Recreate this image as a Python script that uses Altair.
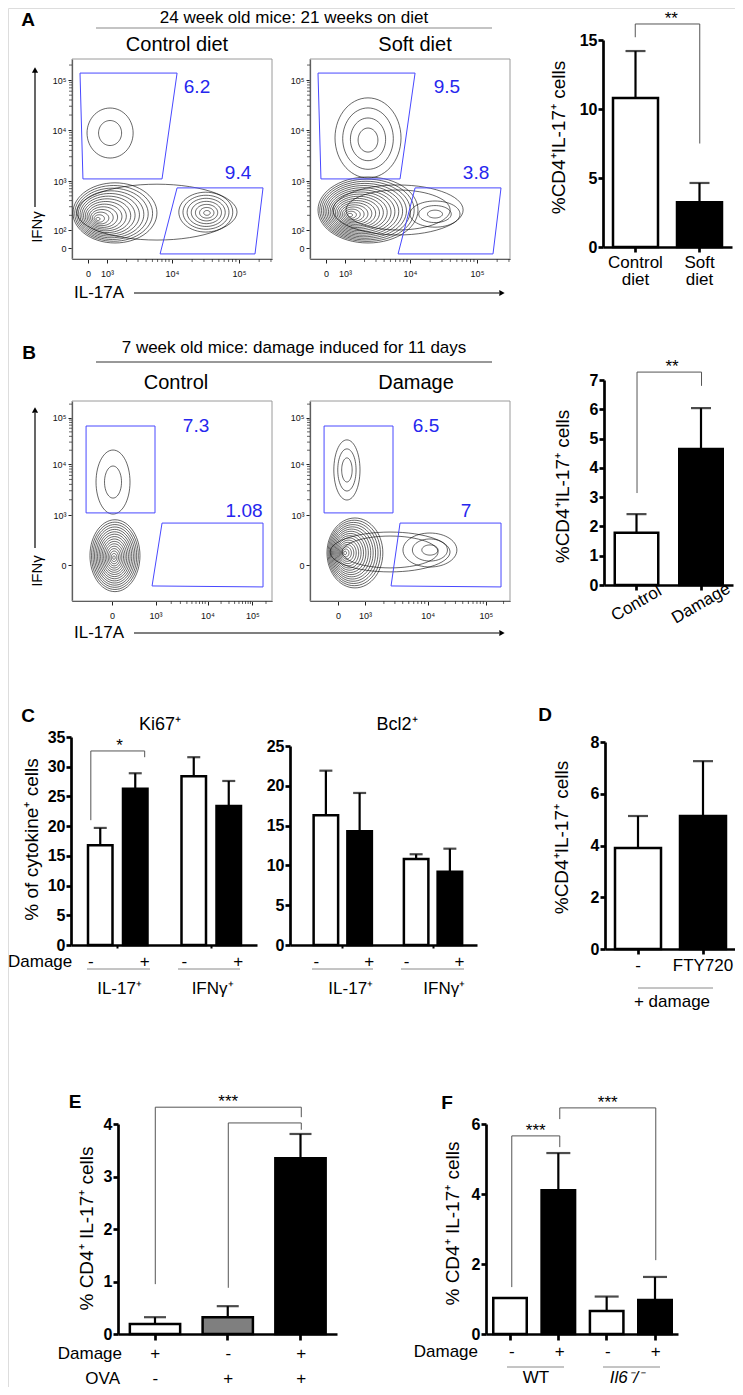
import altair as alt
import numpy as np
import pandas as pd

FONT = "Liberation Sans"
W, H = 727, 1379          # chart drawing area (page minus its 8px margin)
MARGIN = 8


def p(v):
    """position in the reference figure -> position in the chart area"""
    return v - MARGIN


# =====================================================================
# DATA
# =====================================================================
# ---- Panel A : 24 week old mice, 21 weeks on diet ----
A_flow_titles = ["Control diet", "Soft diet"]
A_ifng_pct = ["6.2", "9.5"]
A_il17_pct = ["9.4", "3.8"]
A_groups = ["Control diet", "Soft diet"]
A_mean = [10.8, 3.25]
A_upper = [14.2, 4.64]          # mean + SEM

# ---- Panel B : 7 week old mice, damage induced for 11 days ----
B_flow_titles = ["Control", "Damage"]
B_ifng_pct = ["7.3", "6.5"]
B_il17_pct = ["1.08", "7"]
B_groups = ["Control", "Damage"]
B_mean = [1.78, 4.64]
B_upper = [2.42, 6.04]

# ---- Panel C ----
C_cytokines = ["IL-17⁺", "IFNγ⁺"]
C_damage = ["-", "+"]
C_ki67_mean = [16.8, 26.3, 28.4, 23.4]
C_ki67_upper = [19.7, 28.9, 31.6, 27.6]
C_bcl2_mean = [16.3, 14.3, 10.8, 9.2]
C_bcl2_upper = [21.9, 19.1, 11.4, 12.1]

# ---- Panel D ----
D_groups = ["-", "FTY720"]
D_mean = [3.9, 5.14]
D_upper = [5.14, 7.26]

# ---- Panel E ----
E_damage = ["+", "-", "+"]
E_ova = ["-", "+", "+"]
E_mean = [0.19, 0.32, 3.35]
E_upper = [0.32, 0.53, 3.81]

# ---- Panel F ----
F_damage = ["-", "+", "-", "+"]
F_genotype = ["WT", "WT", "Il6", "Il6"]
F_mean = [1.03, 4.11, 0.66, 0.97]
F_upper = [1.03, 5.17, 1.07, 1.63]

# ---- flow plots, in display channel units (0-1024 across each plot) ----
FLOW_X_LABELS = ["0", "10³", "10⁴", "10⁵"]
FLOW_A_X_TICKS = [82, 179, 512, 855]
FLOW_A_Y_TICKS = [56, 148, 399, 660, 916]
FLOW_A_Y_LABELS = ["0", "10²", "10³", "10⁴", "10⁵"]
FLOW_B1_X_TICKS = [205, 428, 694, 924]
FLOW_B2_X_TICKS = [143, 282, 602, 901]
FLOW_B_Y_TICKS = [184, 440, 701, 937]
FLOW_B_Y_LABELS = ["0", "10³", "10⁴", "10⁵"]

A_IFNG_GATE_X = [41, 538, 461, 56]
A_IFNG_GATE_Y = [952, 952, 410, 410]
A_IL17_GATE_X = [538, 978, 937, 451]
A_IL17_GATE_Y = [364, 364, 26, 26]
B_IFNG_GATE_X = [72, 425, 425, 72]
B_IFNG_GATE_Y = [896, 896, 451, 451]
B1_IL17_GATE_X = [461, 978, 978, 410]
B2_IL17_GATE_X = [461, 978, 978, 415]
B_IL17_GATE_Y = [399, 399, 72, 77]

# where each gate frequency is written
A1_PCT_X, A1_PCT_Y = [640, 850], [881, 440]
A2_PCT_X, A2_PCT_Y = [701, 850], [881, 440]
B1_PCT_X, B1_PCT_Y = [635, 881], [896, 461]
B2_PCT_X, B2_PCT_Y = [594, 799], [896, 461]

# populations drawn as nested contours:
# (inner cx, inner cy, outer cx, outer cy, outer rx, outer ry, n levels, inner size fraction)
A1_POPS = [(133, 205, 220, 236, 215, 154, 14, 0.05),
           (691, 236, 685, 240, 138, 102, 7, 0.12),
           (195, 645, 195, 645, 118, 128, 2, 0.5),
           (435, 240, 435, 240, 410, 143, 1, 1.0)]
A2_POPS = [(205, 225, 297, 251, 256, 169, 18, 0.05),
           (297, 609, 297, 620, 169, 205, 4, 0.3),
           (640, 230, 640, 230, 128, 67, 3, 0.3),
           (451, 251, 451, 251, 333, 128, 2, 0.8)]
B1_POPS = [(215, 222, 220, 232, 128, 184, 16, 0.05),
           (210, 609, 210, 609, 87, 164, 2, 0.5)]
B2_POPS = [(180, 246, 230, 246, 143, 179, 16, 0.05),
           (614, 261, 614, 261, 138, 87, 3, 0.3),
           (410, 251, 410, 251, 307, 102, 2, 0.8),
           (189, 671, 189, 671, 67, 154, 3, 0.4)]

# =====================================================================
# LAYOUT (reference pixels)
# =====================================================================
FLOW_W = 200
FLOW_L = [72, 310]
FLOW_A_TB = (59, 259)
FLOW_B_TB = (401, 601)

LAY_A = dict(x0=603, x1=732, y0=247, ytop=40, ymax=15, ticks=[0, 5, 10, 15],
             c0=635.5, c1=699.5, bw=45, cap=20,
             title="%CD4⁺IL-17⁺ cells", tx=558, ty=137)
LAY_B = dict(x0=604, x1=733, y0=585, ytop=380, ymax=7, ticks=list(range(8)),
             c0=636.5, c1=701, bw=43.5, cap=20,
             title="%CD4⁺IL-17⁺ cells", tx=562, ty=486)
LAY_KI = dict(x0=71, x1=257, y0=945, ytop=737, ymax=35, ticks=list(range(0, 36, 5)),
              c0=117.75, c1=211.25, ostep=35, bw=24.5, cap=13,
              title="% of cytokine⁺ cells", tx=31, ty=839)
LAY_BCL = dict(x0=290, x1=477, y0=945, ytop=746, ymax=25, ticks=list(range(0, 26, 5)),
               c0=342.75, c1=433, ostep=33.75, bw=24.5, cap=13, title=None)
LAY_D = dict(x0=605, x1=735, y0=949, ytop=742, ymax=8, ticks=[0, 2, 4, 6, 8],
             c0=638, c1=703, bw=46, cap=20,
             title="%CD4⁺IL-17⁺ cells", tx=561, ty=837)
LAY_E = dict(x0=118, x1=337, y0=1334, ytop=1124, ymax=4, ticks=[0, 1, 2, 3, 4],
             c0=155, c1=300.5, bw=50.3, cap=22,
             title="% CD4⁺ IL-17⁺ cells", tx=86, ty=1228)
LAY_F = dict(x0=486, x1=678, y0=1334, ytop=1124, ymax=6, ticks=[0, 2, 4, 6],
             c0=510, c1=655, bw=33.5, cap=24,
             title="% CD4⁺ IL-17⁺ cells", tx=452, ty=1223)

ONE = pd.DataFrame({"k": [0]})
GATE_BLUE = "#4848ff"
PCT_BLUE = "#2626ee"
GREY = "#8a8a8a"
TICK_FONT = 16
TITLE_FONT = 19


# =====================================================================
# helpers
# =====================================================================
def txt(s, X, Y, size=17, weight="normal", align="center", baseline="middle",
        angle=None, color="black", style=None):
    kw = dict(text=s, font=FONT, fontSize=size, fontWeight=weight, align=align,
              baseline=baseline, color=color)
    if angle is not None:
        kw["angle"] = angle
    if style:
        kw["fontStyle"] = style
    return alt.Chart(ONE).mark_text(**kw).encode(x=alt.value(p(X)), y=alt.value(p(Y)))


def hline(X1, X2, Y, color="black", width=1.0):
    return alt.Chart(ONE).mark_rule(color=color, strokeWidth=width).encode(
        x=alt.value(p(X1)), x2=alt.value(p(X2)), y=alt.value(p(Y)))


def vline(X, Y1, Y2, color="black", width=1.0):
    return alt.Chart(ONE).mark_rule(color=color, strokeWidth=width).encode(
        x=alt.value(p(X)), y=alt.value(p(Y1)), y2=alt.value(p(Y2)))


def head(X, Y, shape):
    return alt.Chart(ONE).mark_point(shape=shape, filled=True, size=38, color="black",
                                     opacity=1).encode(x=alt.value(p(X)), y=alt.value(p(Y)))


def band_scale(domain, x0, x1, c0, c1, bw):
    n = len(domain)
    step = (c1 - c0) / (n - 1)
    pi = 1 - bw / step
    span = x1 - x0
    po = max((span / step - n + pi) / 2, 0)
    slack = span - step * (n - pi)
    align = (c0 - bw / 2 - x0) / slack if slack > 0.5 else 0.5
    align = min(max(align, 0), 1)
    return alt.Scale(domain=domain, range=[p(x0), p(x1)], paddingInner=pi,
                     paddingOuter=po, align=align)


def y_scale(lay):
    return alt.Scale(domain=[0, lay["ymax"]], range=[p(lay["y0"]), p(lay["ytop"])],
                     nice=False, zero=True)


def y_axis(lay):
    kw = dict(orient="left", offset=-p(lay["x0"]), values=lay["ticks"], grid=False,
              domainColor="black", domainWidth=2.7, tickColor="black", tickWidth=2.7,
              tickSize=5, labelFont=FONT, labelFontSize=TICK_FONT, labelFontWeight="bold",
              labelColor="black", labelPadding=1)
    if lay["title"]:
        kw.update(title=lay["title"], titleFont=FONT, titleFontSize=TITLE_FONT,
                  titleFontWeight="normal", titleColor="black",
                  titleX=lay["tx"] - lay["x0"], titleY=p(lay["ty"]),
                  titleBaseline="middle", titleAngle=270)
    else:
        kw["title"] = None
    return alt.Axis(**kw)


def x_axis(lay, **extra):
    kw = dict(orient="bottom", offset=p(lay["y0"]) - H, title=None, grid=False,
              domainColor="black", domainWidth=2.7, tickColor="black", tickWidth=2.7,
              tickSize=5, labelFont=FONT, labelFontSize=17, labelColor="black")
    kw.update(extra)
    return alt.Axis(**kw)


def bar_panel(cats, means, uppers, fills, lay, xaxis_extra, brackets=(), stars=(),
              below=()):
    df = pd.DataFrame({"cat": cats, "mean": means, "upper": uppers, "fill": fills,
                       "base": [0.0] * len(cats)})
    xs = band_scale(cats, lay["x0"], lay["x1"], lay["c0"], lay["c1"], lay["bw"])
    ys = y_scale(lay)

    def X():
        return alt.X("cat:N", scale=xs, axis=None)

    def Y(f):
        return alt.Y(f, scale=ys, axis=None)

    out = [alt.Chart(df).mark_bar(stroke="black", strokeWidth=2.5).encode(
        x=alt.X("cat:N", scale=xs, axis=x_axis(lay, **xaxis_extra)),
        y=alt.Y("mean:Q", scale=ys, axis=y_axis(lay)),
        y2="base:Q",
        color=alt.Color("fill:N", scale=None))]
    err = alt.Chart(df[df["upper"] > df["mean"]])
    out.append(err.mark_rule(color="black", strokeWidth=2.2).encode(
        x=X(), y=Y("mean:Q"), y2="upper:Q"))
    out.append(err.mark_tick(color="black", thickness=2.2, size=lay["cap"]).encode(
        x=X(), y=Y("upper:Q")))
    rows = []
    for bi, br in enumerate(brackets):
        for oi, (c, v) in enumerate(br):
            rows.append({"bid": bi, "ord": oi, "cat": c, "val": v})
    if rows:
        out.append(alt.Chart(pd.DataFrame(rows)).mark_line(
            color="#555555", strokeWidth=1).encode(
            x=X(), y=Y("val:Q"), detail="bid:N", order="ord:Q"))
    for (c, v, s, dx) in stars:
        out.append(alt.Chart(pd.DataFrame({"cat": [c], "val": [v]})).mark_text(
            text=s, font=FONT, fontSize=17, baseline="alphabetic", dx=dx,
            color="black").encode(x=X(), y=Y("val:Q")))
    for (labels, Yp) in below:
        out.append(alt.Chart(pd.DataFrame({"cat": cats, "lab": labels})).mark_text(
            font=FONT, fontSize=17, color="black", baseline="middle").encode(
            x=X(), y=alt.value(p(Yp)), text="lab:N"))
    return out


def grouped_panel(means, uppers, lay, brackets=(), stars=()):
    grp = [g for g in C_cytokines for _ in C_damage]
    dmg = [d for _ in C_cytokines for d in C_damage]
    fills = ["white" if d == "-" else "black" for d in dmg]
    df = pd.DataFrame({"grp": grp, "dmg": dmg, "mean": means, "upper": uppers,
                       "fill": fills, "base": [0.0] * len(grp)})
    xs = band_scale(C_cytokines, lay["x0"], lay["x1"], lay["c0"], lay["c1"],
                    2 * lay["ostep"])
    opi = 1 - lay["bw"] / lay["ostep"]
    xo = alt.Scale(domain=C_damage, paddingInner=opi, paddingOuter=opi / 2)
    ys = y_scale(lay)

    def X():
        return alt.X("grp:N", scale=xs, axis=None)

    def XO():
        return alt.XOffset("dmg:N", scale=xo)

    def Y(f):
        return alt.Y(f, scale=ys, axis=None)

    xax = x_axis(lay, labels=False, tickSize=3, tickWidth=2)
    out = [alt.Chart(df).mark_bar(stroke="black", strokeWidth=2.5).encode(
        x=alt.X("grp:N", scale=xs, axis=xax), xOffset=XO(),
        y=alt.Y("mean:Q", scale=ys, axis=y_axis(lay)), y2="base:Q",
        color=alt.Color("fill:N", scale=None))]
    out.append(alt.Chart(df).mark_rule(color="black", strokeWidth=2.2).encode(
        x=X(), xOffset=XO(), y=Y("mean:Q"), y2="upper:Q"))
    out.append(alt.Chart(df).mark_tick(color="black", thickness=2.2, size=lay["cap"]).encode(
        x=X(), xOffset=XO(), y=Y("upper:Q")))
    rows = []
    for bi, br in enumerate(brackets):
        for oi, (g, d, v) in enumerate(br):
            rows.append({"bid": bi, "ord": oi, "grp": g, "dmg": d, "val": v})
    if rows:
        out.append(alt.Chart(pd.DataFrame(rows)).mark_line(
            color="#555555", strokeWidth=1).encode(
            x=X(), xOffset=XO(), y=Y("val:Q"), detail="bid:N", order="ord:Q"))
    for (g, v, s) in stars:
        out.append(alt.Chart(pd.DataFrame({"grp": [g], "val": [v]})).mark_text(
            text=s, font=FONT, fontSize=17, baseline="alphabetic", color="black").encode(
            x=X(), y=Y("val:Q")))
    out.append(alt.Chart(df).mark_text(font=FONT, fontSize=17, color="black",
                                       baseline="middle").encode(
        x=X(), xOffset=XO(), y=alt.value(p(962)), text="dmg:N"))
    out.append(alt.Chart(pd.DataFrame({"grp": C_cytokines})).mark_text(
        font=FONT, fontSize=17, color="black", baseline="middle").encode(
        x=X(), y=alt.value(p(989)), text="grp:N"))
    return out


def label_expr(vals, labels):
    e = "''"
    for v, l in reversed(list(zip(vals, labels))):
        e = f"datum.value == {v} ? '{l}' : {e}"
    return e


def minor_ticks(decades, top=1024):
    """log-decade minor tick positions between (and after) the decade ticks"""
    out = []
    for a, b in zip(decades[:-1], decades[1:]):
        out += [a + (b - a) * np.log10(k) for k in range(2, 10)]
    step = decades[-1] - decades[-2]
    out += [v for v in (decades[-1] + step * np.log10(k) for k in range(2, 10)) if v < top]
    return out


def contour_df(pops):
    ang = np.linspace(0, 2 * np.pi, 61)
    rows = []
    cid = 0
    for (cxi, cyi, cxo, cyo, rxo, ryo, n, f) in pops:
        for k in range(n):
            t = 1.0 if n == 1 else k / (n - 1)
            cx = cxi + t * (cxo - cxi)
            cy = cyi + t * (cyo - cyi)
            s = f + (1 - f) * t
            for j, a in enumerate(ang):
                rows.append((cid, j, cx + rxo * s * np.cos(a), cy + ryo * s * np.sin(a)))
            cid += 1
    return pd.DataFrame(rows, columns=["cid", "ord", "x", "y"])


def gate_df(gates):
    rows = []
    for gi, (gx, gy) in enumerate(gates):
        n = len(gx)
        for j in range(n + 1):
            rows.append((gi, j, gx[j % n], gy[j % n]))
    return pd.DataFrame(rows, columns=["gid", "ord", "x", "y"])


def flow_panel(L, TB, xticks, yticks, ylabels, gates, pct_x, pct_y, pct_txt, pops):
    T, B = TB
    xs = alt.Scale(domain=[0, 1024], range=[p(L), p(L + FLOW_W)], nice=False, zero=False)
    ys = alt.Scale(domain=[0, 1024], range=[p(B), p(T)], nice=False, zero=False)
    common = dict(grid=False, title=None, domainColor="#222222", domainWidth=1.2,
                  tickColor="#222222", tickWidth=1, tickSize=4, labelFont=FONT,
                  labelFontSize=9, labelColor="#111111")
    xax = alt.Axis(orient="bottom", offset=p(B) - H, values=xticks,
                   labelExpr=label_expr(xticks, FLOW_X_LABELS), labelPadding=6, **common)
    yax = alt.Axis(orient="left", offset=-p(L), values=yticks,
                   labelExpr=label_expr(yticks, ylabels), labelPadding=2, **common)

    def X(f="x:Q"):
        return alt.X(f, scale=xs, axis=None)

    def Y(f="y:Q"):
        return alt.Y(f, scale=ys, axis=None)

    frame = alt.Chart(pd.DataFrame({"x": [0], "x2": [1024], "y": [0], "y2": [1024]})).mark_rect(
        fillOpacity=0, stroke="#9a9a9a", strokeWidth=1).encode(
        x=alt.X("x:Q", scale=xs, axis=xax), x2="x2:Q",
        y=alt.Y("y:Q", scale=ys, axis=yax), y2="y2:Q")
    xdec = [v for v, l in zip(xticks, FLOW_X_LABELS) if l != "0"]
    ydec = [v for v, l in zip(yticks, ylabels) if l != "0"]
    xm = pd.DataFrame({"m": minor_ticks(xdec), "z": 0})
    ym = pd.DataFrame({"m": minor_ticks(ydec), "z": 0})
    xminor = alt.Chart(xm).mark_tick(orient="vertical", size=3, thickness=1,
                                     color="#222222", yOffset=1.5).encode(
        x=X("m:Q"), y=Y("z:Q"))
    yminor = alt.Chart(ym).mark_tick(orient="horizontal", size=3, thickness=1,
                                     color="#222222", xOffset=-1.5).encode(
        x=X("z:Q"), y=Y("m:Q"))
    cont = alt.Chart(contour_df(pops)).mark_line(color="black", strokeWidth=0.6).encode(
        x=X(), y=Y(), detail="cid:N", order="ord:Q")
    gate = alt.Chart(gate_df(gates)).mark_line(color=GATE_BLUE, strokeWidth=1).encode(
        x=X(), y=Y(), detail="gid:N", order="ord:Q")
    pct = alt.Chart(pd.DataFrame({"x": pct_x, "y": pct_y, "t": pct_txt})).mark_text(
        font=FONT, fontSize=19, color=PCT_BLUE, baseline="middle").encode(
        x=X(), y=Y(), text="t:N")
    return [frame, xminor, yminor, cont, gate, pct]


# =====================================================================
# panels (all flat: every unit carries its own explicit scales)
# =====================================================================
layers = []

A_gates = [(A_IFNG_GATE_X, A_IFNG_GATE_Y), (A_IL17_GATE_X, A_IL17_GATE_Y)]
layers += flow_panel(FLOW_L[0], FLOW_A_TB, FLOW_A_X_TICKS, FLOW_A_Y_TICKS,
                     FLOW_A_Y_LABELS, A_gates, A1_PCT_X, A1_PCT_Y,
                     [A_ifng_pct[0], A_il17_pct[0]], A1_POPS)
layers += flow_panel(FLOW_L[1], FLOW_A_TB, FLOW_A_X_TICKS, FLOW_A_Y_TICKS,
                     FLOW_A_Y_LABELS, A_gates, A2_PCT_X, A2_PCT_Y,
                     [A_ifng_pct[1], A_il17_pct[1]], A2_POPS)
layers += flow_panel(FLOW_L[0], FLOW_B_TB, FLOW_B1_X_TICKS, FLOW_B_Y_TICKS,
                     FLOW_B_Y_LABELS,
                     [(B_IFNG_GATE_X, B_IFNG_GATE_Y), (B1_IL17_GATE_X, B_IL17_GATE_Y)],
                     B1_PCT_X, B1_PCT_Y, [B_ifng_pct[0], B_il17_pct[0]], B1_POPS)
layers += flow_panel(FLOW_L[1], FLOW_B_TB, FLOW_B2_X_TICKS, FLOW_B_Y_TICKS,
                     FLOW_B_Y_LABELS,
                     [(B_IFNG_GATE_X, B_IFNG_GATE_Y), (B2_IL17_GATE_X, B_IL17_GATE_Y)],
                     B2_PCT_X, B2_PCT_Y, [B_ifng_pct[1], B_il17_pct[1]], B2_POPS)

layers += bar_panel(
    A_groups, A_mean, A_upper, ["white", "black"], LAY_A,
    dict(labelExpr="split(datum.label, ' ')", labelLineHeight=17, labelPadding=2,
         labelAngle=0),
    brackets=[[(A_groups[0], 15.2), (A_groups[0], 16.16), (A_groups[1], 16.16),
               (A_groups[1], 7.5)]],
    stars=[(A_groups[0], 16.16, "**", 36)])

layers += bar_panel(
    B_groups, B_mean, B_upper, ["white", "black"], LAY_B,
    dict(labelAngle=330, labelAlign="center", labelBaseline="middle", labelPadding=13),
    brackets=[[(B_groups[0], 3.14), (B_groups[0], 7.27), (B_groups[1], 7.27),
               (B_groups[1], 6.8)]],
    stars=[(B_groups[0], 7.27, "**", 35)])

layers += grouped_panel(
    C_ki67_mean, C_ki67_upper, LAY_KI,
    brackets=[[(C_cytokines[0], "-", 21.0), (C_cytokines[0], "-", 32.65),
               (C_cytokines[0], "+", 32.65), (C_cytokines[0], "+", 31.6)]],
    stars=[(C_cytokines[0], 32.65, "*")])
layers += grouped_panel(C_bcl2_mean, C_bcl2_upper, LAY_BCL)

layers += bar_panel(D_groups, D_mean, D_upper, ["white", "black"], LAY_D,
                    dict(labelAngle=0, labelPadding=3))

E_cats = [f"{d}/{o}" for d, o in zip(E_damage, E_ova)]
layers += bar_panel(
    E_cats, E_mean, E_upper, ["white", "#7f7f7f", "black"], LAY_E,
    dict(labels=False, tickSize=6),
    brackets=[[(E_cats[0], 0.95), (E_cats[0], 4.32), (E_cats[2], 4.32), (E_cats[2], 4.13)],
              [(E_cats[1], 0.88), (E_cats[1], 4.02), (E_cats[2], 4.02), (E_cats[2], 3.89)]],
    stars=[(E_cats[1], 4.32, "***", 0)],
    below=[(E_damage, 1354), (E_ova, 1379)])

F_cats = [f"{g} {d}" for g, d in zip(F_genotype, F_damage)]
layers += bar_panel(
    F_cats, F_mean, F_upper, ["white", "black", "white", "black"], LAY_F,
    dict(labels=False, tickSize=6),
    brackets=[[(F_cats[0], 1.34), (F_cats[0], 5.66), (F_cats[1], 5.66), (F_cats[1], 5.34)],
              [(F_cats[1], 6.14), (F_cats[1], 6.46), (F_cats[3], 6.46), (F_cats[3], 2.11)]],
    stars=[(F_cats[0], 5.66, "***", 24), (F_cats[2], 6.46, "***", 0)],
    below=[(F_damage, 1352)])

# ---- text, rules and arrows around the panels ----
layers += [
    txt("A", 28, 20, 19, "bold"), txt("B", 29, 353, 19, "bold"),
    txt("C", 28, 716, 19, "bold"), txt("D", 545, 715, 19, "bold"),
    txt("E", 75, 1102, 19, "bold"), txt("F", 447, 1103, 19, "bold"),
    txt("24 week old mice: 21 weeks on diet", 294, 18, 17),
    hline(96, 492, 28, GREY, 1.2),
    txt("7 week old mice: damage induced for 11 days", 294, 348, 17),
    hline(96, 492, 362, "#333333", 1.0),
    txt(A_flow_titles[0], 177, 45, 20), txt(A_flow_titles[1], 415, 45, 20),
    txt(B_flow_titles[0], 176, 383, 20), txt(B_flow_titles[1], 416, 383, 20),
    vline(35, 72, 207, "black", 1.2), head(35, 70, "triangle-up"),
    txt("IFNγ", 37, 227, 15, angle=270),
    vline(35, 413, 548, "black", 1.2), head(35, 410, "triangle-up"),
    txt("IFNγ", 37, 571, 15, angle=270),
    txt("IL-17A", 74, 293, 17, align="left"),
    hline(134, 499, 293, "black", 1.2), head(502, 293, "triangle-right"),
    txt("IL-17A", 74, 633, 17, align="left"),
    hline(134, 499, 633, "black", 1.2), head(502, 633, "triangle-right"),
    txt("Ki67⁺", 160, 725, 18), txt("Bcl2⁺", 397, 725, 18),
    txt("Damage", 8, 962, 17, align="left"),
    hline(87, 150, 969, GREY), hline(178, 240, 969, GREY),
    hline(312, 373, 969, GREY), hline(401, 464, 969, GREY),
    hline(638, 713, 988, GREY), txt("+ damage", 672, 1002, 17),
    txt("Damage", 122, 1354, 17, align="right"), txt("OVA", 120, 1379, 17, align="right"),
    txt("Damage", 478, 1352, 17, align="right"),
    hline(507, 564, 1367, GREY), hline(603, 660, 1367, GREY),
    txt("WT", 536, 1378, 17), txt("Il6⁻/⁻", 627, 1378, 17, style="italic"),
]

chart = alt.layer(*layers).resolve_scale(
    x="independent", y="independent", xOffset="independent"
).properties(
    width=W, height=H, autosize=alt.AutoSizeParams(type="none"), padding=0
).configure_view(stroke=None).configure(font=FONT)

chart.save("out.html", embed_options={"renderer": "svg", "actions": False})
